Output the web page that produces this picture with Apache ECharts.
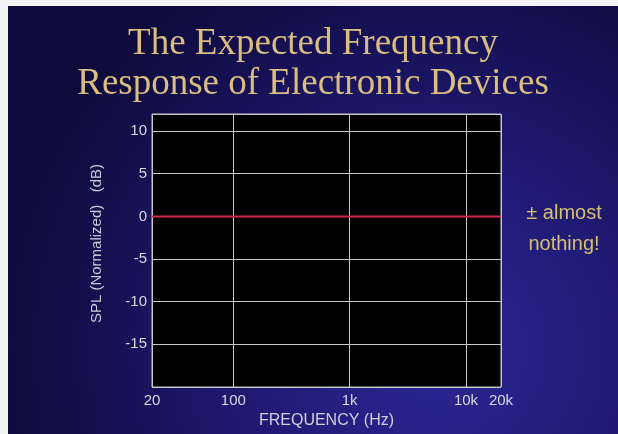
<!DOCTYPE html>
<html>
<head>
<meta charset="utf-8">
<script src="https://cdn.jsdelivr.net/npm/echarts@6/dist/echarts.min.js"></script>
<style>
html,body{margin:0;padding:0;background:#f4f4f6;width:618px;height:434px;overflow:hidden;}
#chart{position:absolute;left:8px;top:6px;width:610px;height:428px;}
</style>
</head>
<body>
<div id="chart"></div>
<script>
var titleLines = ["The Expected Frequency", "Response of Electronic Devices"];
var frequencies = [20, 100, 1000, 10000, 20000];
var splValues = [0, 0, 0, 0, 0];
var yTicks = [-20, -15, -10, -5, 0, 5, 10];
var xTickLabels = {20: "20", 100: "100", 1000: "1k", 10000: "10k", 20000: "20k"};
var noteLines = ["\u00b1 almost", "nothing!"];

var chart = echarts.init(document.getElementById('chart'));
var option = {
  backgroundColor: {
    type: 'radial', x: 0.7, y: 0.8, r: 1.0,
    colorStops: [
      {offset: 0, color: '#2b2896'},
      {offset: 0.5, color: '#1e186e'},
      {offset: 1, color: '#0f0b3c'}
    ]
  },
  title: {
    text: titleLines.join('\n'),
    left: 'center',
    top: 13,
    textStyle: {
      fontFamily: 'Liberation Serif',
      fontWeight: 'normal',
      fontSize: 37,
      lineHeight: 40,
      color: '#d9bd82'
    }
  },
  grid: {
    left: 144, top: 108, right: 117, bottom: 47,
    show: true, backgroundColor: '#000000', borderColor: '#bfbfbf', borderWidth: 1
  },
  xAxis: {
    type: 'log', logBase: 10, min: 20, max: 20000,
    name: 'FREQUENCY (Hz)', nameLocation: 'middle', nameGap: 24,
    nameTextStyle: {color: '#d0d0dc', fontFamily: 'Liberation Sans', fontSize: 16},
    axisLine: {show: false},
    axisTick: {show: false},
    minorTick: {show: false},
    splitLine: {show: true, lineStyle: {color: '#c8c8c8', width: 1}},
    axisLabel: {
      color: '#d8d8e0', fontFamily: 'Liberation Sans', fontSize: 15, margin: 6,
      formatter: function (v) {
        var r = Math.round(v);
        return xTickLabels[r] !== undefined ? xTickLabels[r] : '';
      }
    }
  },
  yAxis: {
    type: 'value', min: yTicks[0], max: 12, interval: 5,
    name: 'SPL (Normalized)   (dB)', nameLocation: 'middle', nameGap: 48,
    nameTextStyle: {color: '#c8c8d8', fontFamily: 'Liberation Sans', fontSize: 15, padding: [0, 0, 0, 14]},
    axisLine: {show: false},
    axisTick: {show: false},
    splitLine: {show: true, lineStyle: {color: '#c8c8c8', width: 1}},
    axisLabel: {
      color: '#d8d8e0', fontFamily: 'Liberation Sans', fontSize: 15, margin: 5,
      showMinLabel: false, showMaxLabel: false,
      formatter: function (v) { return yTicks.indexOf(v) >= 0 && v !== yTicks[0] ? String(v) : ''; }
    }
  },
  graphic: [{
    type: 'text', x: 556, y: 192,
    style: {
      text: noteLines.join('\n'),
      fill: '#d6c070', font: '20px "Liberation Sans"', lineHeight: 31, textAlign: 'center'
    }
  }],
  series: [{
    type: 'line',
    data: frequencies.map(function (f, i) { return [f, splValues[i]]; }),
    symbol: 'none',
    lineStyle: {color: '#d42a4a', width: 2},
    animation: false
  }],
  animation: false
};
chart.setOption(option);
</script>
</body>
</html>
